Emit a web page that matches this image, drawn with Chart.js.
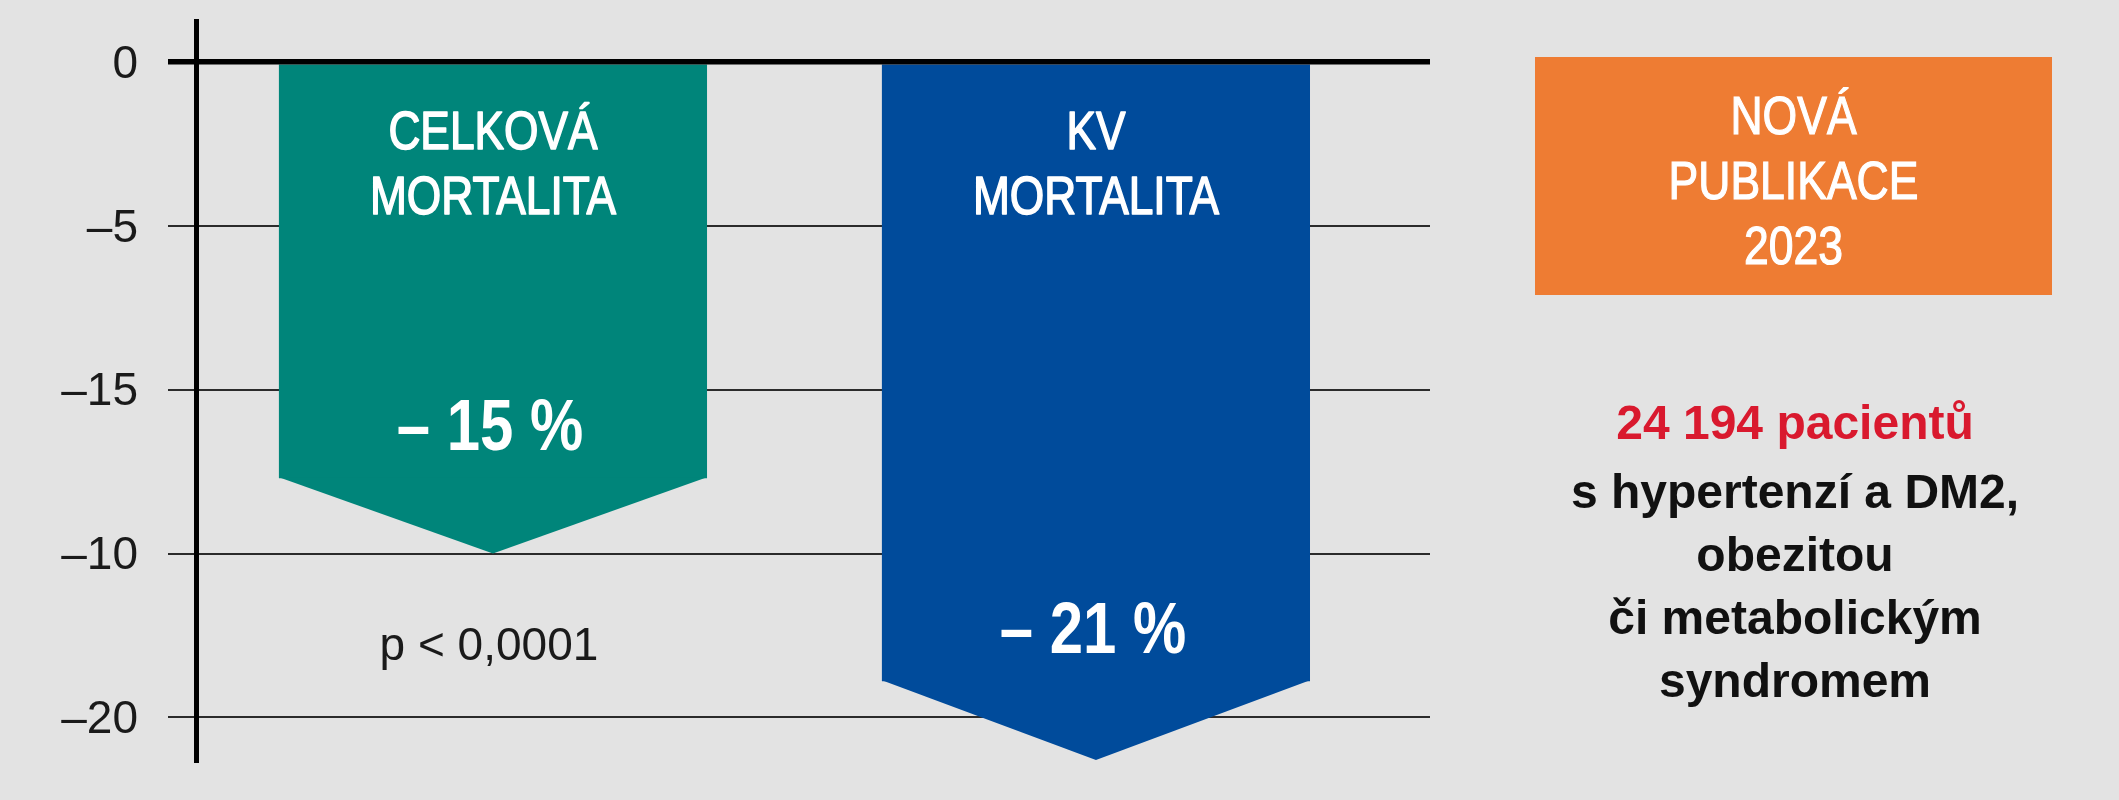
<!DOCTYPE html>
<html lang="cs">
<head>
<meta charset="UTF-8">
<title>Mortalita – nová publikace 2023</title>
<script src="https://cdn.jsdelivr.net/npm/chart.js"></script>
<style>
    html, body {
        margin: 0;
        padding: 0;
        background-color: #e3e3e3;
    }
    body {
        position: relative;
        width: 2119px;
        height: 800px;
        overflow: hidden;
        font-family: "Liberation Sans", Arial, sans-serif;
    }
    #chart {
        position: absolute;
        left: 0;
        top: 0;
    }
    .badge {
        position: absolute;
        left: 1535px;
        top: 57px;
        width: 517px;
        height: 238px;
        box-sizing: border-box;
        padding-top: 8px;
        background-color: #ee7c33; /* orange */
        color: #fff;
        font-size: 53px;
        line-height: 65px;
        text-align: center;
        -webkit-text-stroke: 1.2px #fff;
        display: flex;
        flex-direction: column;
        justify-content: center;
    }
    .badge div {
        transform: scaleX(0.84); /* no narrow font installed, squeeze it */
    }
    .note {
        position: absolute;
        left: 1535px;
        top: 391px;
        width: 520px;
        text-align: center;
        font-weight: bold;
        font-size: 48px;
        line-height: 63px;
        color: #111;
    }
    .note .red {
        color: #d9192e;
        margin-bottom: 6px;
    }
</style>
</head>
<body>

<canvas id="chart" width="2119" height="800"></canvas>

<div class="badge">
    <div>NOVÁ</div>
    <div>PUBLIKACE</div>
    <div>2023</div>
</div>

<div class="note">
    <div class="red">24 194 pacientů</div>
    <div>s hypertenzí a DM2,</div>
    <div>obezitou</div>
    <div>či metabolickým</div>
    <div>syndromem</div>
</div>

<script>
    // values
    const titleLines = [["CELKOVÁ", "MORTALITA"], ["KV", "MORTALITA"]];
    const barPositions = [1, 2];
    const shoulderValues = [-12.7, -18.9];   // where the straight part of the arrow ends
    const tipValues = [-15, -21.3];          // point of the arrow
    const percentLabels = ["– 15 %", "– 21 %"];
    const barColors = ["#00857a", "#004b9b"];
    const tickValues = [0, -5, -10, -15, -20];
    const tickLabels = ["0", "–5", "–15", "–10", "–20"];   // as printed in the original
    const pValueText = "p < 0,0001";

    const FONT = '"Liberation Sans", Arial, sans-serif';

    // condensed look: squeeze text horizontally around its centre
    function narrowText(ctx, text, x, y, font, squeeze, stroke) {
        ctx.save();
        ctx.translate(x, y);
        ctx.scale(squeeze, 1);
        ctx.font = font;
        ctx.fillText(text, 0, 0);
        if (stroke) {
            ctx.strokeStyle = ctx.fillStyle;
            ctx.lineWidth = stroke;
            ctx.lineJoin = "round";
            ctx.strokeText(text, 0, 0);
        }
        ctx.restore();
    }

    const arrowPlugin = {
        id: "arrowTips",
        afterDatasetsDraw(chart) {
            const { ctx, chartArea, scales: { y } } = chart;
            const meta = chart.getDatasetMeta(0);
            const yZero = y.getPixelForValue(0);

            meta.data.forEach((bar, i) => {
                const half = bar.width / 2;
                const yShoulder = y.getPixelForValue(shoulderValues[i]);
                const yTip = y.getPixelForValue(tipValues[i]);

                // pointed end of the bar
                ctx.save();
                ctx.fillStyle = barColors[i];
                ctx.beginPath();
                ctx.moveTo(bar.x - half, yShoulder - 1);
                ctx.lineTo(bar.x + half, yShoulder - 1);
                ctx.lineTo(bar.x, yTip);
                ctx.closePath();
                ctx.fill();

                // texts inside the bar
                ctx.fillStyle = "#fff";
                ctx.textAlign = "center";
                ctx.textBaseline = "middle";
                narrowText(ctx, titleLines[i][0], bar.x, yZero + 72, "54px " + FONT, 0.82, 1.6);
                narrowText(ctx, titleLines[i][1], bar.x, yZero + 137, "54px " + FONT, 0.82, 1.6);
                narrowText(ctx, percentLabels[i], bar.x - 3, yShoulder - 48, "bold 73px " + FONT, 0.82);

                if (i === 0) {
                    ctx.fillStyle = "#1a1a1a";
                    ctx.font = "46px " + FONT;
                    ctx.fillText(pValueText, bar.x - 4, yTip + 94);
                }
                ctx.restore();
            });

            // zero line sits on top of the bars
            ctx.save();
            ctx.strokeStyle = "#000";
            ctx.lineWidth = 5;
            ctx.beginPath();
            ctx.moveTo(chartArea.left - 28, yZero);
            ctx.lineTo(chartArea.right, yZero);
            ctx.stroke();
            ctx.restore();
        }
    };

    new Chart(document.getElementById("chart"), {
        type: "bar",
        data: {
            datasets: [{
                data: barPositions.map((x, i) => ({ x: x, y: shoulderValues[i] })),
                backgroundColor: barColors,
                borderWidth: 0,
                barPercentage: 0.71,
                categoryPercentage: 1
            }]
        },
        options: {
            responsive: false,
            animation: false,
            devicePixelRatio: 1,
            layout: {
                padding: { top: 21, bottom: 40, left: 0, right: 689 }
            },
            plugins: {
                legend: { display: false },
                tooltip: { enabled: false }
            },
            scales: {
                x: {
                    type: "linear",
                    min: 0.5075,
                    max: 2.554,
                    offset: false,
                    display: false,
                    afterBuildTicks: (axis) => {
                        axis.ticks = barPositions.map(v => ({ value: v }));
                    }
                },
                y: {
                    min: -21.3,
                    max: 1.25,
                    afterBuildTicks: (axis) => {
                        axis.ticks = tickValues.map(v => ({ value: v }));
                    },
                    afterFit: (axis) => {
                        axis.width = 196;
                        axis.paddingTop = 0;
                        axis.paddingBottom = 0;
                    },
                    ticks: {
                        callback: (value, index) => tickLabels[index],
                        color: "#1a1a1a",
                        padding: 30,
                        labelOffset: 3,
                        font: { family: FONT, size: 46 }
                    },
                    grid: {
                        color: ctx => (ctx.tick && ctx.tick.value === 0) ? "#000" : "#2b2b2b",
                        lineWidth: ctx => (ctx.tick && ctx.tick.value === 0) ? 5 : 2,
                        tickLength: 28
                    },
                    border: {
                        display: true,
                        color: "#000",
                        width: 5
                    }
                }
            }
        },
        plugins: [arrowPlugin]
    });
</script>

</body>
</html>
